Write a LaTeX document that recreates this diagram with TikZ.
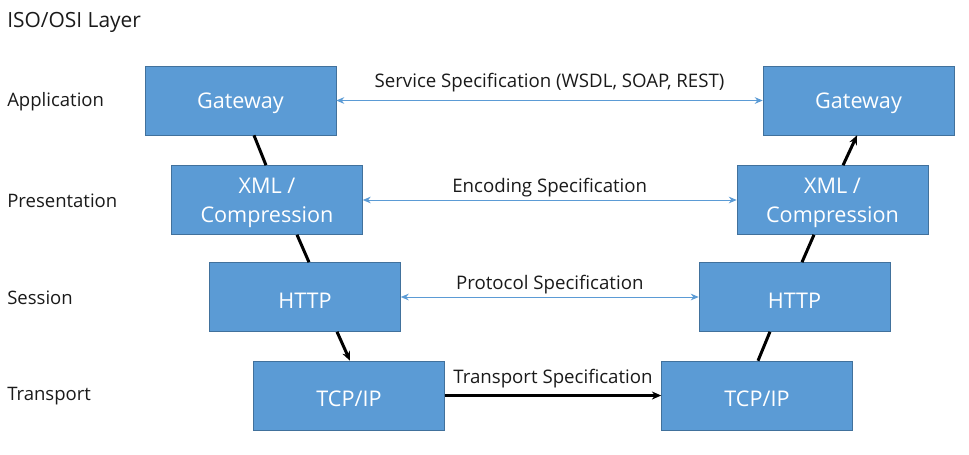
\documentclass[tikz,border=0pt]{standalone}
\usepackage{fontspec}
\setmainfont{Open Sans}
\usetikzlibrary{arrows.meta}

\definecolor{boxblue}{HTML}{5B9BD5}
\definecolor{boxedge}{HTML}{41719C}
\definecolor{labelgray}{HTML}{1A1A1A}

\tikzset{
  layerbox/.style={draw=boxedge, fill=boxblue, text=white, align=center,
    minimum width=143.25pt, minimum height=51.75pt, inner sep=0pt,
    text height=16.5pt, font=\fontsize{16.2}{21.75}\selectfont},
  twoline/.style={text height=37pt},
  layername/.style={anchor=west, text=labelgray, inner sep=0pt,
    font=\fontsize{13.9}{16}\selectfont},
  spectext/.style={text=labelgray, font=\fontsize{14}{16}\selectfont},
  speclink/.style={draw=boxblue, line width=0.75pt, {Stealth[length=6pt,width=5pt]}-{Stealth[length=6pt,width=5pt]}},
  stacklink/.style={draw=black, line width=2.25pt},
  stackarrow/.style={stacklink, -{Stealth[length=7pt,width=6pt]}}
}

\begin{document}
\begin{tikzpicture}[x=0.75pt, y=-0.75pt]
\useasboundingbox (0,0) rectangle (969,454);

\node[layername, font=\fontsize{15.7}{18}\selectfont] (title) at (7,22) {ISO/OSI Layer};
\node[layername] (lapp) at (7,102) {Application};
\node[layername] (lpre) at (7,201) {Presentation};
\node[layername] (lses) at (7,298) {Session};
\node[layername] (ltra) at (7,396) {Transport};

% left stack
\node[layerbox] (gwL) at (240.5,100.5) {Gateway};
\node[layerbox, twoline] (xmlL) at (267,200) {XML /\\Compression};
\node[layerbox] (httpL) at (305,297) {HTTP};
\node[layerbox] (tcpL) at (349,395.5) {TCP/IP};

% right stack
\node[layerbox] (gwR) at (858.5,100.5) {Gateway};
\node[layerbox, twoline] (xmlR) at (832.5,200) {XML /\\Compression};
\node[layerbox] (httpR) at (794.5,297) {HTTP};
\node[layerbox] (tcpR) at (757,395.5) {TCP/IP};

% specifications
\draw[speclink] (gwL) -- node[spectext, above=3pt] (svc) {Service Specification (WSDL, SOAP, REST)} (gwR);
\draw[speclink] (xmlL) -- node[spectext, above=-1.5pt] (enc) {Encoding Specification} (xmlR);
\draw[speclink] (httpL) -- node[spectext, above=-1.5pt] (prot) {Protocol Specification} (httpR);
\draw[stackarrow] (tcpL) -- node[spectext, above=1.5pt] (trans) {Transport Specification} (tcpR);

% down the left stack, up the right stack
\draw[stacklink] ([xshift=10.1pt]gwL.south) -- ([xshift=-0.75pt]xmlL.north);
\draw[stacklink] ([xshift=22.5pt]xmlL.south) -- ([xshift=3pt]httpL.north);
\draw[stackarrow] ([xshift=24pt]httpL.south) -- ([xshift=0.75pt]tcpL.north);
\draw[stacklink] ([xshift=0.75pt]tcpR.north) -- ([xshift=-18.4pt]httpR.south);
\draw[stacklink] ([xshift=5.6pt]httpR.north) -- ([xshift=-13.9pt]xmlR.south);
\draw[stackarrow] ([xshift=7.9pt]xmlR.north) -- ([xshift=-1.1pt]gwR.south);
\end{tikzpicture}
\end{document}
